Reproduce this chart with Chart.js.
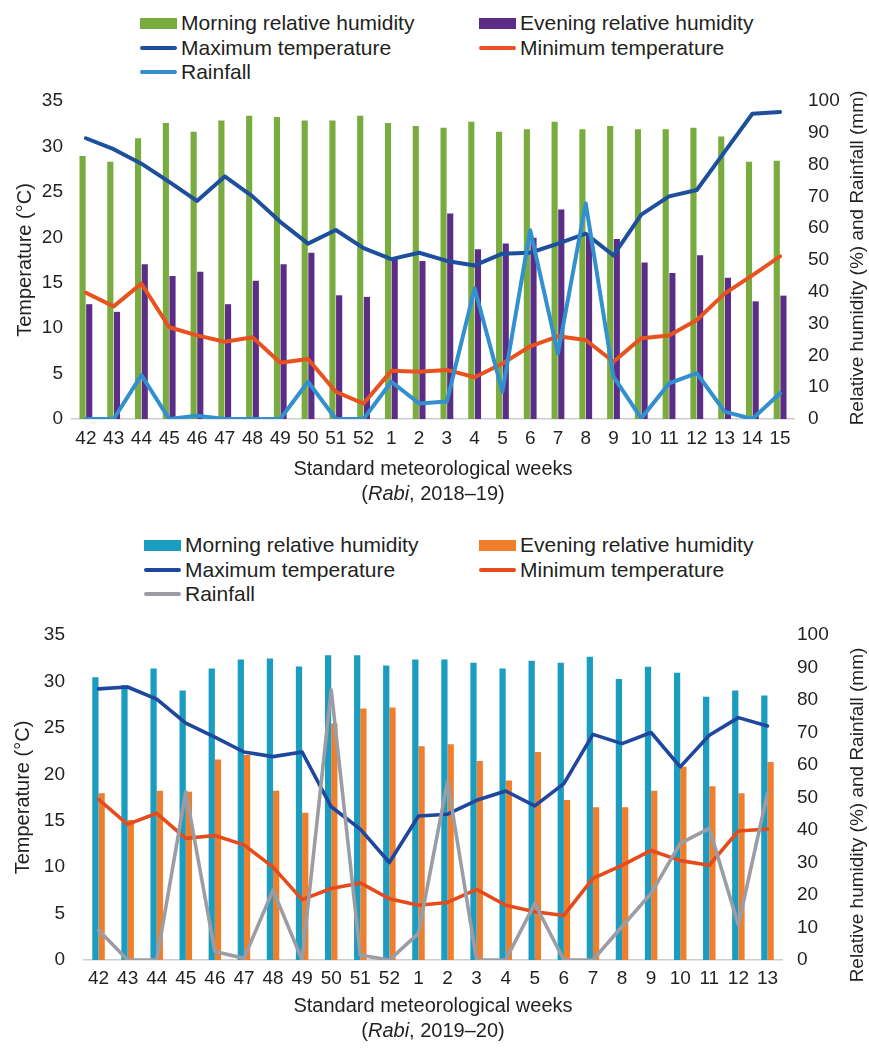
<!DOCTYPE html>
<html><head><meta charset="utf-8">
<script src="https://cdn.jsdelivr.net/npm/chart.js@4.4.1/dist/chart.umd.min.js"></script>
<style>
body{margin:0;background:#fff;}
#page{position:relative;width:869px;height:1048px;overflow:hidden;font-family:"Liberation Sans",Arial,sans-serif;color:#231f20;}
.lg{position:absolute;height:24px;display:flex;align-items:center;font-size:21px;white-space:nowrap;}
.sw{display:inline-block;margin-right:4px;}
.xt{position:absolute;left:0;width:866px;text-align:center;font-size:20px;line-height:24px;}
.rt{position:absolute;font-size:19px;white-space:nowrap;transform:translate(-50%,-50%) rotate(-90deg);}
canvas{position:absolute;left:0;}
</style></head>
<body><div id="page">
<canvas id="c1" width="869" height="370" style="top:90px"></canvas>
<canvas id="c2" width="869" height="380" style="top:620px"></canvas>
<div id="legend1"></div><div id="legend2"></div>
<div class="xt" style="top:456px">Standard meteorological weeks</div>
<div class="xt" style="top:481px">(<i>Rabi</i>, 2018–19)</div>
<div class="xt" style="top:993px">Standard meteorological weeks</div>
<div class="xt" style="top:1018px">(<i>Rabi</i>, 2019–20)</div>
<div class="rt" style="left:857px;top:258px">Relative humidity (%) and Rainfall (mm)</div>
<div class="rt" style="left:857px;top:815px">Relative humidity (%) and Rainfall (mm)</div>
</div>
<script>
// ---------- Rabi 2018-19 ----------
const weeks1 = ['42','43','44','45','46','47','48','49','50','51','52','1','2','3','4','5','6','7','8','9','10','11','12','13','14','15'];
const morningRH1 = [82.7,80.9,88.3,93.1,90.3,93.9,95.4,95.0,93.9,93.9,95.4,93.1,92.1,91.6,93.5,90.3,91.1,93.5,91.1,92.1,91.1,91.1,91.6,88.8,80.9,81.2];
const eveningRH1 = [36.1,33.7,48.7,45.0,46.3,36.1,43.5,48.7,52.3,38.9,38.4,50.2,49.7,64.6,53.4,55.2,57.0,65.9,58.0,56.6,49.2,45.9,51.5,44.4,37.0,38.8];
const maxTemp1 = [30.9,29.7,28.1,26.1,24.0,26.7,24.5,21.7,19.3,20.8,18.8,17.6,18.3,17.4,16.9,18.2,18.3,19.3,20.4,18.0,22.5,24.5,25.2,29.4,33.6,33.8];
const minTemp1 = [13.9,12.4,14.9,10.1,9.2,8.5,9.0,6.2,6.6,3.0,1.7,5.3,5.2,5.4,4.6,6.1,8.0,9.1,8.7,6.3,8.9,9.2,10.9,13.8,15.8,17.9];
const rain1 = [0,0,13.8,0,1.0,0,0,0,11.7,0,0,11.7,4.9,5.5,41.1,8.6,59.4,20.6,67.8,13.3,0.2,11.2,14.4,2.3,0,8.1];

// ---------- Rabi 2019-20 ----------
const weeks2 = ['42','43','44','45','46','47','48','49','50','51','52','1','2','3','4','5','6','7','8','9','10','11','12','13'];
const morningRH2 = [87.0,84.6,89.7,82.9,89.7,92.5,92.8,90.3,93.8,93.8,90.6,92.5,92.5,91.5,89.7,92.1,91.5,93.3,86.5,90.2,88.4,81.0,82.9,81.4];
const eveningRH2 = [51.3,43.1,52.1,51.8,61.7,63.1,52.1,45.3,72.8,77.4,77.7,65.8,66.4,61.2,55.2,64.0,49.2,47.0,47.0,52.1,59.5,53.5,51.3,60.9];
const maxTemp2 = [29.2,29.4,28.1,25.5,24.0,22.4,21.9,22.4,16.5,14.1,10.5,15.5,15.7,17.2,18.2,16.6,19.0,24.3,23.3,24.5,20.8,24.2,26.1,25.2];
const minTemp2 = [17.3,14.6,15.8,13.1,13.4,12.4,10.0,6.5,7.7,8.3,6.6,5.9,6.2,7.6,5.9,5.2,4.8,8.8,10.2,11.8,10.7,10.2,13.9,14.1];
const rain2 = [9.2,0,0,51.8,2.6,0.5,21.5,0,83.1,1.5,0,8.2,55.0,0,0,17.4,0,0,10.3,20.5,35.9,40.5,10.8,51.3];

const tempTicks = {min:0, max:35, step:5};
const rhTicks = {min:0, max:100, step:10};
const seriesNames = ['Morning relative humidity','Evening relative humidity','Maximum temperature','Minimum temperature','Rainfall'];

const colors1 = {m:'#7aab3e', e:'#5b2d87', tmax:'#1e4f9d', tmin:'#e8521f', rain:'#3290cf'};
const colors2 = {m:'#1b9dc1', e:'#ef7e2d', tmax:'#1f479d', tmin:'#e64b1c', rain:'#9c9ca5'};

const FAMILY = '"Liberation Sans", Arial, sans-serif';
const TXT = '#231f20';

function legend(el, top, x1, x2, c){
  const rows = [
    [[x1,'bar',c.m,seriesNames[0]],[x2,'bar',c.e,seriesNames[1]]],
    [[x1,'line',c.tmax,seriesNames[2]],[x2,'line',c.tmin,seriesNames[3]]],
    [[x1,'line',c.rain,seriesNames[4]]]
  ];
  let html='';
  rows.forEach((r,i)=>{
    r.forEach(([x,kind,col,name])=>{
      const h = kind==='bar'?11:4;
      html += `<div class="lg" style="left:${x}px;top:${top+i*24.5-12}px"><span class="sw" style="width:37px;height:${h}px;background:${col};border-radius:${kind==='bar'?0:2}px"></span>${name}</div>`;
    });
  });
  document.getElementById(el).innerHTML = html;
}
legend('legend1', 23, 140, 479, colors1);
legend('legend2', 545, 144, 479, colors2);

function build(id, labels, mRH, eRH, tMax, tMin, rain, c, g){
  const lineDs = (label, data, col, axis, ord) => ({type:'line', label, data, borderColor:col, backgroundColor:col,
      borderWidth:g.lw, pointRadius:0, tension:0, fill:false, yAxisID:axis, order:ord, borderJoinStyle:'round', borderCapStyle:'round'});
  const barDs = (label, data, col) => ({type:'bar', label, data, backgroundColor:col, borderWidth:0,
      barPercentage:g.bp, categoryPercentage:g.cp, yAxisID:'yR', order:5});
  const noPad = s => { s.paddingTop = 0; s.paddingBottom = 0; };
  new Chart(document.getElementById(id), {
    type:'bar',
    data:{labels, datasets:[
      barDs(seriesNames[0], mRH, c.m),
      barDs(seriesNames[1], eRH, c.e),
      lineDs(seriesNames[2], tMax, c.tmax, 'yT', 2),
      lineDs(seriesNames[3], tMin, c.tmin, 'yT', 1),
      lineDs(seriesNames[4], rain, c.rain, 'yR', 0)
    ]},
    options:{
      responsive:false, animation:false, devicePixelRatio:1,
      layout:{padding:{top:g.padTop,left:0,right:0,bottom:0}},
      plugins:{legend:{display:false}, tooltip:{enabled:false}},
      scales:{
        x:{offset:true, grid:{display:false, drawTicks:false}, border:{display:true,color:'#cdcdcd',width:1.5},
           ticks:{autoSkip:false, maxRotation:0, minRotation:0, padding:g.xpad, color:TXT, font:{family:FAMILY,size:19}},
           afterFit(s){ s.height = g.xh; }},
        yT:{position:'left', min:tempTicks.min, max:tempTicks.max, grid:{display:false, drawTicks:false}, border:{display:false},
            ticks:{stepSize:tempTicks.step, padding:g.lpad, color:TXT, font:{family:FAMILY,size:19}},
            title:{display:true, text:'Temperature (°C)', color:TXT, font:{family:FAMILY,size:20}, padding:{top:g.ltp,bottom:0}},
            afterFit(s){ s.width = g.lw0; noPad(s); }},
        yR:{position:'right', min:rhTicks.min, max:rhTicks.max, grid:{display:false, drawTicks:false}, border:{display:false},
            ticks:{stepSize:rhTicks.step, padding:g.rpad, color:TXT, font:{family:FAMILY,size:19}},
            afterFit(s){ s.width = g.rw; noPad(s); }}
      }
    }
  });
}

build('c1', weeks1, morningRH1, eveningRH1, maxTemp1, minTemp1, rain1, colors1,
  {lw:4, bp:0.92, cp:0.48, padTop:11, xpad:8, xh:41, lpad:9, ltp:13, lw0:72, rpad:14, rw:75});
build('c2', weeks2, morningRH2, eveningRH2, maxTemp2, minTemp2, rain2, colors2,
  {lw:3.6, bp:1, cp:0.43, padTop:15, xpad:7, xh:40, lpad:19, ltp:11, lw0:84, rpad:15, rw:87});
</script>
</body></html>
